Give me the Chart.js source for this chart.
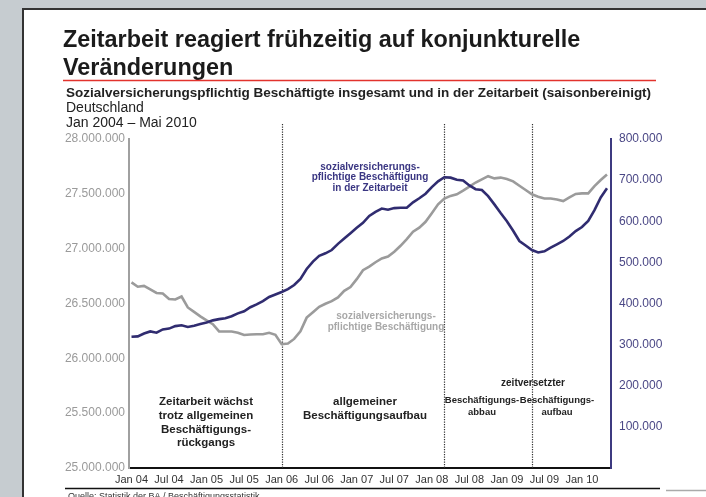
<!DOCTYPE html>
<html lang="de">
<head>
<meta charset="utf-8">
<title>Zeitarbeit</title>
<script src="https://cdn.jsdelivr.net/npm/chart.js@4.4.1/dist/chart.umd.min.js"></script>
<style>
  html, body { margin: 0; padding: 0; overflow: hidden; background: #c6ccd0; }
  #card {
    position: absolute; left: 22px; top: 8px; width: 700px; height: 500px;
    background: #fff; border-left: 2px solid #333; border-top: 2px solid #333;
  }
  #wrap { position: absolute; left: 0; top: 0; width: 706px; height: 497px; }
</style>
</head>
<body>
<div id="card"></div>
<div id="wrap"><canvas id="chart"></canvas></div>
<script>
// x-axis tick labels, one every 6 months (Jan 2004 - Jan 2010)
const tickLabels = ["Jan 04", "Jul 04", "Jan 05", "Jul 05", "Jan 06", "Jul 06", "Jan 07",
  "Jul 07", "Jan 08", "Jul 08", "Jan 09", "Jul 09", "Jan 10"];

// Sozialversicherungspflichtig Beschaeftigte insgesamt, in 1.000 (Jan 04 - Mai 10)
const gesamt = [
  26693, 26653, 26661, 26629, 26596, 26591, 26541, 26537, 26564, 26464, 26424, 26383,
  26346, 26311, 26245, 26244, 26244, 26234, 26213, 26217, 26219, 26219, 26233, 26215,
  26129, 26135, 26177, 26247, 26371, 26421, 26470, 26498, 26521, 26556, 26615, 26650,
  26722, 26804, 26836, 26876, 26911, 26928, 26972, 27026, 27088, 27155, 27192, 27245,
  27323, 27404, 27457, 27481, 27496, 27529, 27565, 27603, 27632, 27661, 27641, 27648,
  27636, 27614, 27574, 27535, 27496, 27474, 27458, 27458, 27449, 27434, 27467, 27499,
  27504, 27504, 27570, 27626, 27676];

// Sozialversicherungspflichtig Beschaeftigte in der Zeitarbeit, in 1.000
const zeitarbeit = [
  319, 320, 327, 332, 329, 337, 339, 345, 347, 343, 346, 350,
  354, 359, 362, 364, 369, 376, 381, 391, 398, 406, 416, 422,
  428, 435, 445, 460, 484, 502, 516, 522, 530, 545, 558, 571,
  584, 596, 613, 623, 631, 628, 632, 633, 633, 646, 656, 667,
  683, 697, 707, 706, 701, 699, 687, 678, 676, 661, 641, 620,
  600, 577, 552, 541, 530, 524, 527, 536, 544, 552, 563, 576,
  586, 601, 627, 658, 680];

// month index of the dotted phase separators (Jan 06, Mrz 08, Mai 09)
const phaseMarks = [24, 50, 64];

const FONT = "'Liberation Sans', Arial, Helvetica, sans-serif";
const BLUE = "#302c70";
const GREY = "#9b9b9b";

function fmt(n) {
  return String(Math.round(n)).replace(/\B(?=(\d{3})+(?!\d))/g, ".");
}

Chart.defaults.font.family = FONT;

// header, footer, separators and inline labels
const decorations = {
  id: "decorations",
  beforeDatasetsDraw(chart) {
    const ctx = chart.ctx;
    const x = chart.scales.x;
    ctx.save();
    ctx.strokeStyle = "#333";
    ctx.lineWidth = 1.2;
    ctx.setLineDash([1.2, 1.3]);
    phaseMarks.forEach((m) => {
      const px = Math.round(x.getPixelForValue(m)) + 0.5;
      ctx.beginPath();
      ctx.moveTo(px, 124);
      ctx.lineTo(px, chart.chartArea.bottom);
      ctx.stroke();
    });
    ctx.restore();
  },
  afterDraw(chart) {
    const ctx = chart.ctx;
    ctx.save();
    // title
    ctx.fillStyle = "#1b1b1b";
    ctx.textBaseline = "alphabetic";
    ctx.textAlign = "left";
    ctx.font = "bold 23.4px " + FONT;
    ctx.fillText("Zeitarbeit reagiert frühzeitig auf konjunkturelle", 63, 47);
    ctx.fillText("Veränderungen", 63, 75);
    ctx.strokeStyle = "#e2332d";
    ctx.lineWidth = 1.5;
    ctx.beginPath();
    ctx.moveTo(63, 80.5);
    ctx.lineTo(656, 80.5);
    ctx.stroke();
    ctx.font = "bold 13.5px " + FONT;
    ctx.fillStyle = "#222";
    ctx.fillText("Sozialversicherungspflichtig Beschäftigte insgesamt und in der Zeitarbeit (saisonbereinigt)", 66, 97);
    ctx.font = "14px " + FONT;
    ctx.fillText("Deutschland", 66, 112);
    ctx.fillText("Jan 2004 – Mai 2010", 66, 127);

    // footer
    ctx.strokeStyle = "#111";
    ctx.lineWidth = 1.5;
    ctx.beginPath();
    ctx.moveTo(65, 488.5);
    ctx.lineTo(660, 488.5);
    ctx.stroke();
    ctx.strokeStyle = "#aaa";
    ctx.beginPath();
    ctx.moveTo(666, 490.5);
    ctx.lineTo(706, 490.5);
    ctx.stroke();
    ctx.font = "9px " + FONT;
    ctx.fillStyle = "#333";
    ctx.textBaseline = "top";
    ctx.fillText("Quelle: Statistik der BA / Beschäftigungsstatistik", 68, 492);

    // inline labels
    ctx.textAlign = "center";
    ctx.textBaseline = "middle";
    const put = (lines, cx, ys, font, color) => {
      ctx.font = font;
      ctx.fillStyle = color;
      lines.forEach((t, i) => ctx.fillText(t, cx, ys[i]));
    };
    put(["sozialversicherungs-", "pflichtige Beschäftigung", "in der Zeitarbeit"],
      370, [167, 177.5, 188], "bold 10px " + FONT, "#3a3682");
    put(["sozialversicherungs-", "pflichtige Beschäftigung"],
      386, [316, 327], "bold 10px " + FONT, "#a8a8a8");
    put(["Zeitarbeit wächst", "trotz allgemeinen", "Beschäftigungs-", "rückgangs"],
      206, [402, 416, 429.5, 443], "bold 11.5px " + FONT, "#222");
    put(["allgemeiner", "Beschäftigungsaufbau"],
      365, [402, 415.5], "bold 11.5px " + FONT, "#222");
    put(["zeitversetzter"], 533, [383], "bold 10px " + FONT, "#222");
    put(["Beschäftigungs-", "abbau"], 482, [400, 412], "bold 9.5px " + FONT, "#222");
    put(["Beschäftigungs-", "aufbau"], 557, [400, 412], "bold 9.5px " + FONT, "#222");
    ctx.restore();
  },
};

new Chart(document.getElementById("chart"), {
  type: "line",
  data: {
    datasets: [
      {
        label: "Zeitarbeit",
        data: zeitarbeit.map((v, i) => ({ x: i, y: v })),
        yAxisID: "y1",
        borderColor: BLUE,
        borderWidth: 2.6,
        pointRadius: 0,
        tension: 0,
        fill: false,
      },
      {
        label: "insgesamt",
        data: gesamt.map((v, i) => ({ x: i, y: v })),
        yAxisID: "y",
        borderColor: GREY,
        borderWidth: 2.6,
        pointRadius: 0,
        tension: 0,
        fill: false,
      },
    ],
  },
  options: {
    responsive: true,
    maintainAspectRatio: false,
    animation: false,
    layout: { padding: { top: 139, left: 0, right: 0, bottom: 0 } },
    plugins: { legend: { display: false }, tooltip: { enabled: false } },
    scales: {
      x: {
        type: "linear",
        min: -0.4,
        max: 76.64,
        grid: { display: false, drawTicks: false },
        border: { display: true, color: "#111", width: 2 },
        afterBuildTicks: (s) => {
          s.ticks = tickLabels.map((_, i) => ({ value: i * 6 }));
        },
        afterFit: (s) => { s.height = 29; },
        ticks: {
          autoSkip: false,
          maxRotation: 0,
          padding: 5,
          color: "#333",
          font: { size: 11 },
          callback: (v) => tickLabels[Math.round(v / 6)],
        },
      },
      y: {
        position: "left",
        min: 25000,
        max: 28000,
        grid: { display: false, drawTicks: false },
        border: { display: true, color: "#a0a0a0", width: 2 },
        afterFit: (s) => { s.width = 129; },
        ticks: {
          stepSize: 500,
          padding: 4,
          color: "#9a9a9a",
          font: { size: 12 },
          callback: (v) => fmt(v * 1000),
        },
      },
      y1: {
        position: "right",
        min: 0,
        max: 800,
        grid: { display: false, drawTicks: false },
        border: { display: true, color: "#3d3a80", width: 2 },
        afterFit: (s) => { s.width = 95; },
        ticks: {
          stepSize: 100,
          padding: 8,
          color: "#4a4785",
          font: { size: 12 },
          callback: (v) => (v === 0 ? "" : fmt(v * 1000)),
        },
      },
    },
  },
  plugins: [decorations],
});
</script>
</body>
</html>
